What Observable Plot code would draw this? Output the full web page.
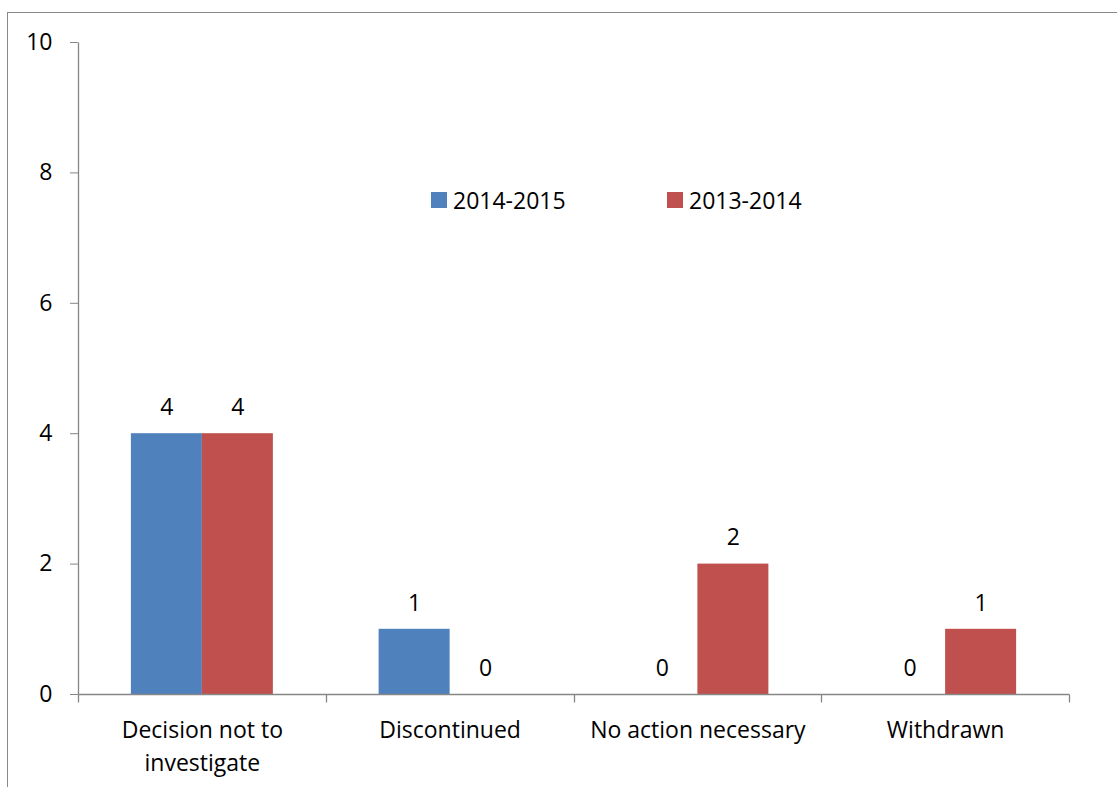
<!DOCTYPE html>
<html><head><meta charset="utf-8">
<script src="https://cdn.jsdelivr.net/npm/d3@7"></script>
<script src="https://cdn.jsdelivr.net/npm/@observablehq/plot@0.6"></script>
<style>
body{margin:0;width:1117px;height:787px;overflow:hidden;background:#fff;font-family:"Open Sans",sans-serif;position:relative}
#frame{position:absolute;left:7px;top:12px;width:1300px;height:1000px;border:1px solid #898989;box-sizing:border-box}
#chart{position:absolute;left:0;top:0}
.item{position:absolute;top:188px;height:24px;display:flex;align-items:center;gap:6px;font-size:23px;color:#000;white-space:nowrap}
.sw{width:16px;height:16px;display:inline-block}
</style>
</head><body>
<div id="frame"></div>
<div id="chart"></div>
<div id="legend"></div>
<script>
const categories = ["Decision not to investigate","Discontinued","No action necessary","Withdrawn"];
const categoryLabels = ["Decision not to\ninvestigate","Discontinued","No action necessary","Withdrawn"];
const series = ["2014-2015","2013-2014"];
const values2014_2015 = [4,1,0,0];
const values2013_2014 = [4,0,2,1];
const yTicks = [0,2,4,6,8,10];
const colors = ["#4F81BD","#C0504D"];

const data = categories.flatMap((c,i)=>[
  {category:c, series:series[0], value:values2014_2015[i]},
  {category:c, series:series[1], value:values2013_2014[i]}
]);

const axisColor = "#868686";
const chart = Plot.plot({
  width:1117, height:787,
  marginLeft:78, marginRight:48, marginTop:42, marginBottom:93,
  style:{fontFamily:"Open Sans", fontSize:"23px", color:"#000", background:"transparent", overflow:"visible"},
  fx:{domain:categories, padding:0, round:false, label:null},
  x:{domain:series, paddingInner:0, paddingOuter:0.7447, round:false, axis:null},
  y:{domain:[0,10], ticks:yTicks, label:null},
  color:{domain:series, range:colors},
  marks:[
    Plot.barY(data,{fx:"category", x:"series", y:"value", fill:"series"}),
    Plot.text(data,{fx:"category", x:"series", y:"value", text:d=>String(d.value), dy:-26, fill:"#000", fontSize:23}),
    Plot.axisY({ticks:yTicks, tickSize:8, tickPadding:18, stroke:axisColor, fill:"#000", fontSize:23, label:null}),
    Plot.axisFx({anchor:"bottom", tickSize:0, tickPadding:20, fontSize:23, lineHeight:1.43, label:null,
      tickFormat:d=>categoryLabels[categories.indexOf(d)]})
  ]
});
document.getElementById("chart").appendChild(chart);

// axis lines and category boundary ticks from the plot's scales
const fx = chart.scale("fx"), y = chart.scale("y");
const y0 = y.apply(0), y10 = y.apply(10);
const bounds = categories.map(c=>fx.apply(c));
bounds.push(fx.apply(categories[categories.length-1]) + fx.bandwidth);
const svg = d3.select(chart);
const g = svg.append("g").attr("stroke", axisColor).attr("stroke-width",1.3).attr("fill","none");
const px = v=>Math.round(v)+0.5;
g.append("line").attr("x1",px(bounds[0])).attr("x2",px(bounds[0])).attr("y1",px(y10)).attr("y2",px(y0));
g.append("line").attr("x1",px(bounds[0])).attr("x2",px(bounds[bounds.length-1])).attr("y1",px(y0)).attr("y2",px(y0));
bounds.forEach(b=>g.append("line").attr("x1",px(b)).attr("x2",px(b)).attr("y1",px(y0)).attr("y2",px(y0)+8));

// legend
const legendLefts = [431, 667];
const legend = document.getElementById("legend");
series.forEach((s,i)=>{
  const it = document.createElement("div");
  it.className="item"; it.style.left = legendLefts[i]+"px";
  it.innerHTML = `<span class="sw" style="background:${colors[i]}"></span><span>${s}</span>`;
  legend.appendChild(it);
});
</script>
</body></html>
